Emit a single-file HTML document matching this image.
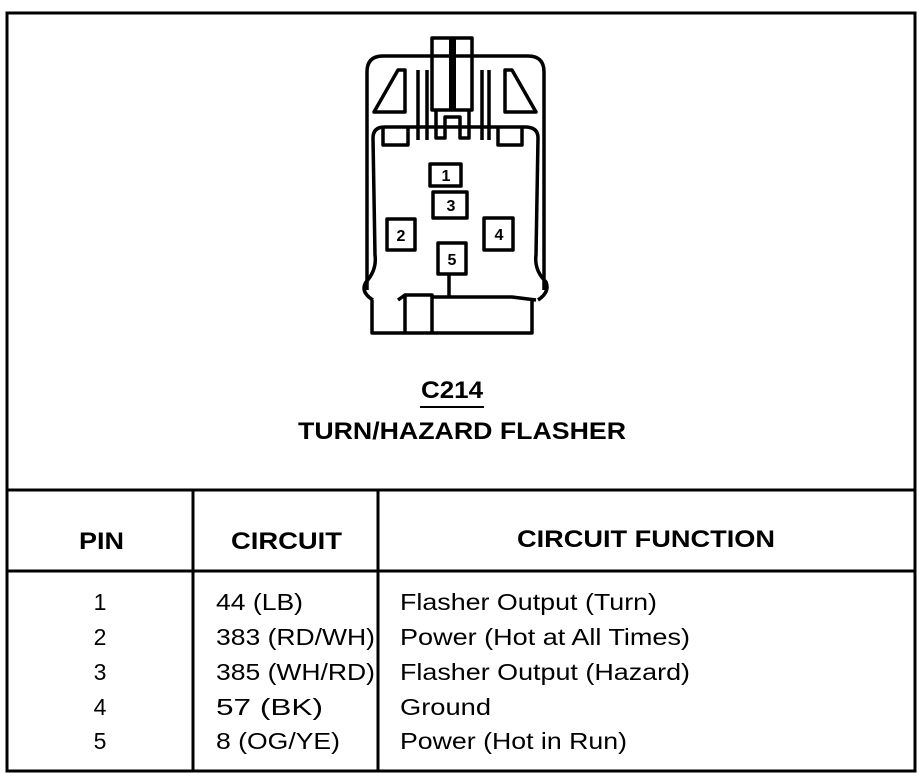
<!DOCTYPE html>
<html><head><style>
html,body{margin:0;padding:0;background:#fff;}
svg{display:block;}
text{font-family:"Liberation Sans",Arial,sans-serif;fill:#000;}
.h{font-weight:bold;font-size:24px;}
.r{font-size:23px;}
</style></head><body>
<svg width="924" height="784" viewBox="0 0 924 784" xmlns="http://www.w3.org/2000/svg">
<g fill="none" stroke="#000" stroke-width="3">
<rect x="7" y="13" width="908" height="758"/>
<line x1="7" y1="490" x2="915" y2="490"/>
<line x1="7" y1="571" x2="915" y2="571"/>
<line x1="193" y1="490" x2="193" y2="771"/>
<line x1="378" y1="490" x2="378" y2="771"/>
</g>
<!-- connector -->
<g fill="none" stroke="#000" stroke-width="3.5" stroke-linejoin="round">
<path d="M367 290 L367 72 Q367 56 383 56 L528 56 Q544 56 544 72 L544 290"/>
<path d="M373 300 Q360 292 366 282 Q377 270 375 255 L373 138 Q373 127 385 127 L525 127 Q538 127 538 138 L536 255 Q534 270 546 282 Q550 292 538 300"/>
<path d="M372 300 L372 333 L532 333 L532 300"/>
<path d="M398 300 L405 295 L405 333 M405 295 L432 295 L432 333 M432 297 L512 297 L536 300"/>
<path d="M374 112 L398 70 L405 70 L405 112 Z"/>
<path d="M536 112 L512 70 L505 70 L505 112 Z"/>
<path d="M383 128 L383 145 L408 145 L408 128"/>
<path d="M498 128 L498 145 L522 145 L522 128"/>
<path d="M418 70 L418 140 M427 70 L427 140 M482 70 L482 140 M489 70 L489 140"/>
<path d="M432 100 L432 38 L472 38 L472 110 L432 110 Z"/>
<path d="M436 110 L436 138 L445 138 L445 117 L460 117 L460 138 L469 138 L469 110"/>
<rect x="430" y="164" width="31" height="22"/>
<rect x="433" y="192" width="34" height="26"/>
<rect x="387" y="219" width="28" height="31"/>
<rect x="484" y="218" width="29" height="32"/>
<rect x="438" y="243" width="28" height="31"/>
<line x1="449" y1="274" x2="449" y2="296"/>
</g>
<rect x="449" y="38" width="7" height="72" fill="#000"/>
<g font-family="Liberation Sans" font-weight="bold" font-size="16" text-anchor="middle">
<text x="446" y="181">1</text><text x="451" y="211">3</text>
<text x="401" y="241">2</text><text x="499" y="240">4</text><text x="452" y="265">5</text>
</g>
<!-- titles -->
<text class="h" x="421" y="398" textLength="62" lengthAdjust="spacingAndGlyphs">C214</text>
<line x1="420" y1="407" x2="484" y2="407" stroke="#000" stroke-width="2"/>
<text class="h" x="298" y="439" textLength="328" lengthAdjust="spacingAndGlyphs">TURN/HAZARD FLASHER</text>
<text class="h" x="79" y="549" textLength="45" lengthAdjust="spacingAndGlyphs">PIN</text>
<text class="h" x="231" y="549" textLength="111" lengthAdjust="spacingAndGlyphs">CIRCUIT</text>
<text class="h" x="517" y="547" textLength="258" lengthAdjust="spacingAndGlyphs">CIRCUIT FUNCTION</text>
<text class="r" x="100" y="610" text-anchor="middle">1</text>
<text class="r" x="100" y="645" text-anchor="middle">2</text>
<text class="r" x="100" y="680" text-anchor="middle">3</text>
<text class="r" x="100" y="715" text-anchor="middle">4</text>
<text class="r" x="100" y="749" text-anchor="middle">5</text>
<text class="r" x="216" y="610" textLength="87" lengthAdjust="spacingAndGlyphs">44 (LB)</text>
<text class="r" x="216" y="645" textLength="159" lengthAdjust="spacingAndGlyphs">383 (RD/WH)</text>
<text class="r" x="216" y="680" textLength="159" lengthAdjust="spacingAndGlyphs">385 (WH/RD)</text>
<text class="r" x="216" y="715" textLength="107" lengthAdjust="spacingAndGlyphs">57 (BK)</text>
<text class="r" x="216" y="749" textLength="124" lengthAdjust="spacingAndGlyphs">8 (OG/YE)</text>
<text class="r" x="400" y="610" textLength="257" lengthAdjust="spacingAndGlyphs">Flasher Output (Turn)</text>
<text class="r" x="400" y="645" textLength="290" lengthAdjust="spacingAndGlyphs">Power (Hot at All Times)</text>
<text class="r" x="400" y="680" textLength="290" lengthAdjust="spacingAndGlyphs">Flasher Output (Hazard)</text>
<text class="r" x="400" y="715" textLength="91" lengthAdjust="spacingAndGlyphs">Ground</text>
<text class="r" x="400" y="749" textLength="227" lengthAdjust="spacingAndGlyphs">Power (Hot in Run)</text>
</svg>
</body></html>
